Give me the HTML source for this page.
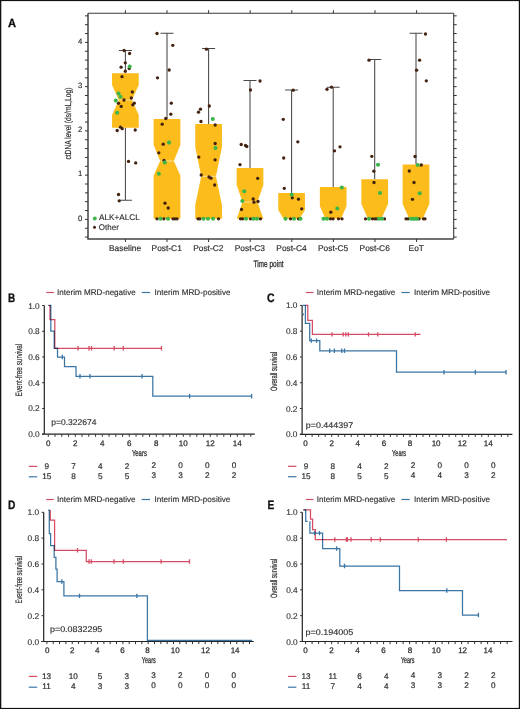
<!DOCTYPE html>
<html><head><meta charset="utf-8"><title>Figure</title>
<style>
html,body{margin:0;padding:0;background:#fff;width:520px;height:709px;overflow:hidden;}
svg{display:block;will-change:transform;text-rendering:geometricPrecision;font-family:"Liberation Sans", sans-serif;}
</style></head><body>
<svg width="520" height="709" viewBox="0 0 520 709" font-family='"Liberation Sans", sans-serif'>
<rect x="0" y="0" width="520" height="709" fill="#fff"/>
<g>
<path d="M125.4 73.3 V50.4 M118.9 50.4 H131.9 M125.4 127.7 V200.3 M118.9 200.3 H131.9 M167 119 V33.3 M160.5 33.3 H173.5 M208.6 124 V48.5 M202.1 48.5 H215.1 M250 168 V80.5 M243.5 80.5 H256.5 M291.6 193 V90 M285.1 90 H298.1 M333.2 187 V87.2 M326.7 87.2 H339.7 M374.7 179.3 V59.5 M368.2 59.5 H381.2 M416 164.5 V33.3 M409.5 33.3 H422.5 " stroke="#484848" stroke-width="1.05" fill="none"/>
<polygon points="112.05,73.3 138.75,73.3 138.75,85 131.95,100 138.75,115 138.75,127.7 112.05,127.7 112.05,115 118.85,100 112.05,85" fill="#FBBC1C"/>
<path d="M118.85 100 H131.95" stroke="#f6e2b0" stroke-width="0.9"/>
<polygon points="153.65,119 180.35,119 180.35,145 173.85,161 180.35,175.5 180.35,218.8 153.65,218.8 153.65,175.5 160.15,161 153.65,145" fill="#FBBC1C"/>
<path d="M160.15 161 H173.85" stroke="#f6e2b0" stroke-width="0.9"/>
<polygon points="195.25,124 221.95,124 221.95,147 215.95,176.3 221.95,205 221.95,218.8 195.25,218.8 195.25,205 201.25,176.3 195.25,147" fill="#FBBC1C"/>
<path d="M201.25 176.3 H215.95" stroke="#f6e2b0" stroke-width="0.9"/>
<polygon points="236.65,168 263.35,168 263.35,185 257.45,202 263.35,218.8 236.65,218.8 242.55,202 236.65,185" fill="#FBBC1C"/>
<path d="M242.55 202 H257.45" stroke="#f6e2b0" stroke-width="0.9"/>
<polygon points="278.25,193 304.95,193 304.95,210 299.65,218.8 283.55,218.8 278.25,210" fill="#FBBC1C"/>
<polygon points="319.85,187 346.55,187 346.55,206 341.05,218.8 325.35,218.8 319.85,206" fill="#FBBC1C"/>
<polygon points="361.35,179.3 388.05,179.3 388.05,204 381.45,218.8 367.95,218.8 361.35,204" fill="#FBBC1C"/>
<polygon points="402.65,164.5 429.35,164.5 429.35,204 422.75,218.8 409.25,218.8 402.65,204" fill="#FBBC1C"/>
</g>
<g fill="#42220f">
<circle cx="124.1" cy="50.5" r="1.65"/>
<circle cx="129.6" cy="53.5" r="1.65"/>
<circle cx="125.3" cy="62.8" r="1.65"/>
<circle cx="121.1" cy="67.2" r="1.65"/>
<circle cx="129.2" cy="68.5" r="1.65"/>
<circle cx="125.3" cy="71.2" r="1.65"/>
<circle cx="122" cy="76.7" r="1.65"/>
<circle cx="132.3" cy="92" r="1.65"/>
<circle cx="131.3" cy="98" r="1.65"/>
<circle cx="124" cy="100" r="1.65"/>
<circle cx="118.5" cy="103.3" r="1.65"/>
<circle cx="121.2" cy="106.4" r="1.65"/>
<circle cx="134.3" cy="103.2" r="1.65"/>
<circle cx="132.8" cy="104.8" r="1.65"/>
<circle cx="120.5" cy="127.2" r="1.65"/>
<circle cx="122.2" cy="128.7" r="1.65"/>
<circle cx="117.2" cy="130.5" r="1.65"/>
<circle cx="135.2" cy="130" r="1.65"/>
<circle cx="128.5" cy="161.4" r="1.65"/>
<circle cx="135.7" cy="162.9" r="1.65"/>
<circle cx="118.5" cy="194.5" r="1.65"/>
<circle cx="119.2" cy="200.8" r="1.65"/>
<circle cx="157" cy="33.5" r="1.65"/>
<circle cx="172.8" cy="45.3" r="1.65"/>
<circle cx="169.2" cy="70" r="1.65"/>
<circle cx="157.5" cy="77.8" r="1.65"/>
<circle cx="171.3" cy="103.2" r="1.65"/>
<circle cx="170.8" cy="114.2" r="1.65"/>
<circle cx="165.8" cy="118.5" r="1.65"/>
<circle cx="162.2" cy="124.2" r="1.65"/>
<circle cx="163.2" cy="144.2" r="1.65"/>
<circle cx="158.8" cy="152.8" r="1.65"/>
<circle cx="164" cy="160.5" r="1.65"/>
<circle cx="165" cy="203.2" r="1.65"/>
<circle cx="168.2" cy="208" r="1.65"/>
<circle cx="157" cy="218.8" r="1.65"/>
<circle cx="163.8" cy="218.8" r="1.65"/>
<circle cx="173" cy="218.8" r="1.65"/>
<circle cx="175" cy="218.8" r="1.65"/>
<circle cx="177" cy="218.8" r="1.65"/>
<circle cx="206.5" cy="49.2" r="1.65"/>
<circle cx="209.3" cy="106" r="1.65"/>
<circle cx="200.5" cy="109.2" r="1.65"/>
<circle cx="198.5" cy="112.2" r="1.65"/>
<circle cx="201" cy="121.5" r="1.65"/>
<circle cx="215.2" cy="125" r="1.65"/>
<circle cx="215.2" cy="143.5" r="1.65"/>
<circle cx="198.8" cy="157.1" r="1.65"/>
<circle cx="215.1" cy="159.8" r="1.65"/>
<circle cx="201.2" cy="175" r="1.65"/>
<circle cx="209" cy="177" r="1.65"/>
<circle cx="211" cy="178.2" r="1.65"/>
<circle cx="214.7" cy="185" r="1.65"/>
<circle cx="198" cy="218.8" r="1.65"/>
<circle cx="199.8" cy="218.8" r="1.65"/>
<circle cx="218.5" cy="218.8" r="1.65"/>
<circle cx="260" cy="81" r="1.65"/>
<circle cx="250.5" cy="90" r="1.65"/>
<circle cx="241.2" cy="144.5" r="1.65"/>
<circle cx="245.5" cy="145.5" r="1.65"/>
<circle cx="246.8" cy="146.5" r="1.65"/>
<circle cx="240" cy="164.7" r="1.65"/>
<circle cx="257.7" cy="178.3" r="1.65"/>
<circle cx="253.2" cy="199" r="1.65"/>
<circle cx="254" cy="202.2" r="1.65"/>
<circle cx="258" cy="201.5" r="1.65"/>
<circle cx="241.5" cy="209.5" r="1.65"/>
<circle cx="240.5" cy="218.8" r="1.65"/>
<circle cx="242.5" cy="218.8" r="1.65"/>
<circle cx="250.5" cy="218.8" r="1.65"/>
<circle cx="260.5" cy="218.8" r="1.65"/>
<circle cx="293.2" cy="90.2" r="1.65"/>
<circle cx="283.3" cy="119.3" r="1.65"/>
<circle cx="297.8" cy="141.8" r="1.65"/>
<circle cx="283.7" cy="158" r="1.65"/>
<circle cx="284.3" cy="188.3" r="1.65"/>
<circle cx="292.3" cy="197.8" r="1.65"/>
<circle cx="298.5" cy="199.2" r="1.65"/>
<circle cx="301.7" cy="208.8" r="1.65"/>
<circle cx="290.5" cy="218.8" r="1.65"/>
<circle cx="298.5" cy="218.8" r="1.65"/>
<circle cx="331.5" cy="87.2" r="1.65"/>
<circle cx="327" cy="89.3" r="1.65"/>
<circle cx="340" cy="146.8" r="1.65"/>
<circle cx="334.5" cy="150.8" r="1.65"/>
<circle cx="330.8" cy="212.2" r="1.65"/>
<circle cx="330.5" cy="218.8" r="1.65"/>
<circle cx="333" cy="218.8" r="1.65"/>
<circle cx="338.5" cy="218.8" r="1.65"/>
<circle cx="342" cy="218.8" r="1.65"/>
<circle cx="369" cy="60.2" r="1.65"/>
<circle cx="371.8" cy="156.3" r="1.65"/>
<circle cx="373.8" cy="171.2" r="1.65"/>
<circle cx="374" cy="182.5" r="1.65"/>
<circle cx="365.5" cy="218.8" r="1.65"/>
<circle cx="372.5" cy="218.8" r="1.65"/>
<circle cx="375" cy="218.8" r="1.65"/>
<circle cx="377" cy="218.8" r="1.65"/>
<circle cx="384.5" cy="218.8" r="1.65"/>
<circle cx="425.5" cy="34" r="1.65"/>
<circle cx="419.6" cy="60.2" r="1.65"/>
<circle cx="416.6" cy="70.2" r="1.65"/>
<circle cx="426.3" cy="80.8" r="1.65"/>
<circle cx="415" cy="156.5" r="1.65"/>
<circle cx="421.3" cy="165" r="1.65"/>
<circle cx="409.3" cy="171" r="1.65"/>
<circle cx="414" cy="182.5" r="1.65"/>
<circle cx="412.5" cy="199.3" r="1.65"/>
<circle cx="406" cy="218.8" r="1.65"/>
<circle cx="408" cy="218.8" r="1.65"/>
<circle cx="419" cy="218.8" r="1.65"/>
<circle cx="423.5" cy="218.8" r="1.65"/>
<circle cx="425" cy="218.8" r="1.65"/>
</g><g fill="#3cb54a">
<circle cx="129.7" cy="66.5" r="2.05"/>
<circle cx="118.5" cy="93.5" r="2.05"/>
<circle cx="120.5" cy="96.8" r="2.05"/>
<circle cx="115.8" cy="100.6" r="2.05"/>
<circle cx="117.2" cy="112.8" r="2.05"/>
<circle cx="169" cy="142.6" r="2.05"/>
<circle cx="164.8" cy="162.5" r="2.05"/>
<circle cx="158.8" cy="173.8" r="2.05"/>
<circle cx="160.5" cy="218.8" r="2.05"/>
<circle cx="168" cy="218.8" r="2.05"/>
<circle cx="212.8" cy="119" r="2.05"/>
<circle cx="215.5" cy="148" r="2.05"/>
<circle cx="203.5" cy="218.8" r="2.05"/>
<circle cx="208" cy="218.8" r="2.05"/>
<circle cx="213" cy="218.8" r="2.05"/>
<circle cx="244.2" cy="191.3" r="2.05"/>
<circle cx="242.3" cy="201" r="2.05"/>
<circle cx="246" cy="218.8" r="2.05"/>
<circle cx="253.5" cy="218.8" r="2.05"/>
<circle cx="257" cy="218.8" r="2.05"/>
<circle cx="291.7" cy="194.7" r="2.05"/>
<circle cx="285.5" cy="218.8" r="2.05"/>
<circle cx="294" cy="218.8" r="2.05"/>
<circle cx="300.5" cy="218.8" r="2.05"/>
<circle cx="341.8" cy="187.5" r="2.05"/>
<circle cx="337.3" cy="208.5" r="2.05"/>
<circle cx="323.5" cy="218.8" r="2.05"/>
<circle cx="327" cy="218.8" r="2.05"/>
<circle cx="378" cy="164.8" r="2.05"/>
<circle cx="380" cy="193" r="2.05"/>
<circle cx="369" cy="218.8" r="2.05"/>
<circle cx="379" cy="218.8" r="2.05"/>
<circle cx="382" cy="218.8" r="2.05"/>
<circle cx="417.8" cy="165" r="2.05"/>
<circle cx="419.7" cy="193.2" r="2.05"/>
<circle cx="411" cy="218.8" r="2.05"/>
<circle cx="413" cy="218.8" r="2.05"/>
<circle cx="415" cy="218.8" r="2.05"/>
<circle cx="417" cy="218.8" r="2.05"/>
</g>
<g>
<path d="M88 13.2 H453.7 M453.7 13.2 V239" stroke="#3a3a3a" stroke-width="1.1" fill="none"/>
<path d="M88 13.2 V239 H453.7" stroke="#444" stroke-width="1.5" fill="none"/>
<path d="M85 237.1 H88 M453.7 237.1 H456.7 M85 228.25 H88 M453.7 228.25 H456.7 M85 219.4 H88 M453.7 219.4 H456.7 M85 210.55 H88 M453.7 210.55 H456.7 M85 201.7 H88 M453.7 201.7 H456.7 M85 192.85 H88 M453.7 192.85 H456.7 M85 184 H88 M453.7 184 H456.7 M85 175.15 H88 M453.7 175.15 H456.7 M85 166.3 H88 M453.7 166.3 H456.7 M85 157.45 H88 M453.7 157.45 H456.7 M85 148.6 H88 M453.7 148.6 H456.7 M85 139.75 H88 M453.7 139.75 H456.7 M85 130.9 H88 M453.7 130.9 H456.7 M85 122.05 H88 M453.7 122.05 H456.7 M85 113.2 H88 M453.7 113.2 H456.7 M85 104.35 H88 M453.7 104.35 H456.7 M85 95.5 H88 M453.7 95.5 H456.7 M85 86.65 H88 M453.7 86.65 H456.7 M85 77.8 H88 M453.7 77.8 H456.7 M85 68.95 H88 M453.7 68.95 H456.7 M85 60.1 H88 M453.7 60.1 H456.7 M85 51.25 H88 M453.7 51.25 H456.7 M85 42.4 H88 M453.7 42.4 H456.7 M85 33.55 H88 M453.7 33.55 H456.7 M85 24.7 H88 M453.7 24.7 H456.7 M85 15.85 H88 M453.7 15.85 H456.7 M125.4 13.2 V10.2 M125.4 239 V242 M167 13.2 V10.2 M167 239 V242 M208.6 13.2 V10.2 M208.6 239 V242 M250.2 13.2 V10.2 M250.2 239 V242 M291.8 13.2 V10.2 M291.8 239 V242 M333.4 13.2 V10.2 M333.4 239 V242 M375 13.2 V10.2 M375 239 V242 M416.6 13.2 V10.2 M416.6 239 V242 " stroke="#333" stroke-width="1" fill="none"/>
<text x="82.4" y="220.7" font-size="7.8" text-anchor="end" fill="#2e2e2e" stroke="#2e2e2e" stroke-width="0.15" >0</text>
<text x="82.4" y="176.45" font-size="7.8" text-anchor="end" fill="#2e2e2e" stroke="#2e2e2e" stroke-width="0.15" >1</text>
<text x="82.4" y="132.2" font-size="7.8" text-anchor="end" fill="#2e2e2e" stroke="#2e2e2e" stroke-width="0.15" >2</text>
<text x="82.4" y="87.95" font-size="7.8" text-anchor="end" fill="#2e2e2e" stroke="#2e2e2e" stroke-width="0.15" >3</text>
<text x="82.4" y="43.7" font-size="7.8" text-anchor="end" fill="#2e2e2e" stroke="#2e2e2e" stroke-width="0.15" >4</text>
<text x="125.1" y="251.4" font-size="8.4" text-anchor="middle" fill="#2e2e2e" stroke="#2e2e2e" stroke-width="0.18" >Baseline</text>
<text x="166.7" y="251.4" font-size="8.4" text-anchor="middle" fill="#2e2e2e" stroke="#2e2e2e" stroke-width="0.18" >Post-C1</text>
<text x="208.3" y="251.4" font-size="8.4" text-anchor="middle" fill="#2e2e2e" stroke="#2e2e2e" stroke-width="0.18" >Post-C2</text>
<text x="249.9" y="251.4" font-size="8.4" text-anchor="middle" fill="#2e2e2e" stroke="#2e2e2e" stroke-width="0.18" >Post-C3</text>
<text x="291.5" y="251.4" font-size="8.4" text-anchor="middle" fill="#2e2e2e" stroke="#2e2e2e" stroke-width="0.18" >Post-C4</text>
<text x="333.1" y="251.4" font-size="8.4" text-anchor="middle" fill="#2e2e2e" stroke="#2e2e2e" stroke-width="0.18" >Post-C5</text>
<text x="374.7" y="251.4" font-size="8.4" text-anchor="middle" fill="#2e2e2e" stroke="#2e2e2e" stroke-width="0.18" >Post-C6</text>
<text x="416.3" y="251.4" font-size="8.4" text-anchor="middle" fill="#2e2e2e" stroke="#2e2e2e" stroke-width="0.18" >EoT</text>
<text x="268.5" y="266.9" font-size="9.4" text-anchor="middle" fill="#2e2e2e" textLength="30.2" lengthAdjust="spacingAndGlyphs" stroke="#2e2e2e" stroke-width="0.3" >Time point</text>
<text x="71.2" y="123.6" font-size="8.8" text-anchor="middle" fill="#2e2e2e" textLength="72" lengthAdjust="spacingAndGlyphs" transform="rotate(-90 71.2 123.6)" stroke="#2e2e2e" stroke-width="0.2" >ctDNA level (ds/mL,Log)</text>
<text x="8.1" y="26.8" font-size="11.9" text-anchor="start" fill="#111" font-weight="bold" textLength="8" lengthAdjust="spacingAndGlyphs" stroke="#111" stroke-width="0.35" >A</text>
<circle cx="94.8" cy="218.5" r="2" fill="#3cb54a"/>
<circle cx="94.5" cy="227.2" r="1.5" fill="#42220f"/>
<text x="99" y="220.3" font-size="8.1" text-anchor="start" fill="#2e2e2e" textLength="40.7" lengthAdjust="spacingAndGlyphs" stroke="#2e2e2e" stroke-width="0.15" >ALK+ALCL</text>
<text x="98.8" y="229.7" font-size="8.1" text-anchor="start" fill="#2e2e2e" textLength="20" lengthAdjust="spacingAndGlyphs" stroke="#2e2e2e" stroke-width="0.15" >Other</text>
</g>
<g>
<path d="M44.3 305.5 V434.2 M42 434.2 H254.8 " stroke="#222" stroke-width="1.2" fill="none"/>
<path d="M42.1 434.2 H44.3 M42.1 408.46 H44.3 M42.1 382.72 H44.3 M42.1 356.98 H44.3 M42.1 331.24 H44.3 M42.1 305.5 H44.3 M48.3 434.2 V436.8 M55.05 434.2 V436.8 M61.8 434.2 V436.8 M68.55 434.2 V436.8 M75.3 434.2 V436.8 M82.05 434.2 V436.8 M88.8 434.2 V436.8 M95.55 434.2 V436.8 M102.3 434.2 V436.8 M109.05 434.2 V436.8 M115.8 434.2 V436.8 M122.55 434.2 V436.8 M129.3 434.2 V436.8 M136.05 434.2 V436.8 M142.8 434.2 V436.8 M149.55 434.2 V436.8 M156.3 434.2 V436.8 M163.05 434.2 V436.8 M169.8 434.2 V436.8 M176.55 434.2 V436.8 M183.3 434.2 V436.8 M190.05 434.2 V436.8 M196.8 434.2 V436.8 M203.55 434.2 V436.8 M210.3 434.2 V436.8 M217.05 434.2 V436.8 M223.8 434.2 V436.8 M230.55 434.2 V436.8 M237.3 434.2 V436.8 M244.05 434.2 V436.8 M250.8 434.2 V436.8 " stroke="#333" stroke-width="1" fill="none"/>
<text x="39.7" y="437.2" font-size="8.3" text-anchor="end" fill="#2e2e2e" stroke="#2e2e2e" stroke-width="0.12" >0.0</text>
<text x="39.7" y="411.46" font-size="8.3" text-anchor="end" fill="#2e2e2e" stroke="#2e2e2e" stroke-width="0.12" >0.2</text>
<text x="39.7" y="385.72" font-size="8.3" text-anchor="end" fill="#2e2e2e" stroke="#2e2e2e" stroke-width="0.12" >0.4</text>
<text x="39.7" y="359.98" font-size="8.3" text-anchor="end" fill="#2e2e2e" stroke="#2e2e2e" stroke-width="0.12" >0.6</text>
<text x="39.7" y="334.24" font-size="8.3" text-anchor="end" fill="#2e2e2e" stroke="#2e2e2e" stroke-width="0.12" >0.8</text>
<text x="39.7" y="308.5" font-size="8.3" text-anchor="end" fill="#2e2e2e" stroke="#2e2e2e" stroke-width="0.12" >1.0</text>
<text x="48.3" y="445.9" font-size="8" text-anchor="middle" fill="#2e2e2e" stroke="#2e2e2e" stroke-width="0.25" >0</text>
<text x="75.3" y="445.9" font-size="8" text-anchor="middle" fill="#2e2e2e" stroke="#2e2e2e" stroke-width="0.25" >2</text>
<text x="102.3" y="445.9" font-size="8" text-anchor="middle" fill="#2e2e2e" stroke="#2e2e2e" stroke-width="0.25" >4</text>
<text x="129.3" y="445.9" font-size="8" text-anchor="middle" fill="#2e2e2e" stroke="#2e2e2e" stroke-width="0.25" >6</text>
<text x="156.3" y="445.9" font-size="8" text-anchor="middle" fill="#2e2e2e" stroke="#2e2e2e" stroke-width="0.25" >8</text>
<text x="183.3" y="445.9" font-size="8" text-anchor="middle" fill="#2e2e2e" stroke="#2e2e2e" stroke-width="0.25" >10</text>
<text x="210.3" y="445.9" font-size="8" text-anchor="middle" fill="#2e2e2e" stroke="#2e2e2e" stroke-width="0.25" >12</text>
<text x="237.3" y="445.9" font-size="8" text-anchor="middle" fill="#2e2e2e" stroke="#2e2e2e" stroke-width="0.25" >14</text>
<text x="139.4" y="455.7" font-size="8.7" text-anchor="middle" fill="#2e2e2e" textLength="15" lengthAdjust="spacingAndGlyphs" stroke="#2e2e2e" stroke-width="0.28" >Years</text>
<text x="21.6" y="370.1" font-size="9.3" text-anchor="middle" fill="#2e2e2e" textLength="52.6" lengthAdjust="spacingAndGlyphs" transform="rotate(-90 21.6 370.1)" stroke="#2e2e2e" stroke-width="0.18" >Event-free survival</text>
<text x="8.1" y="301.8" font-size="12.3" text-anchor="start" fill="#111" font-weight="bold" textLength="7.2" lengthAdjust="spacingAndGlyphs" stroke="#111" stroke-width="0.3" >B</text>
<text x="51.2" y="424.8" font-size="8.3" text-anchor="start" fill="#2e2e2e" textLength="45.3" lengthAdjust="spacingAndGlyphs" stroke="#2e2e2e" stroke-width="0.15" >p=0.322674</text>
<path d="M46.3 292.5 H53.9" stroke="#d64c64" stroke-width="1.2"/>
<text x="57.1" y="295" font-size="8.1" text-anchor="start" fill="#2e2e2e" textLength="78.6" lengthAdjust="spacingAndGlyphs" stroke="#2e2e2e" stroke-width="0.14" >Interim MRD-negative</text>
<path d="M141.7 292.5 H150.1" stroke="#3b75a4" stroke-width="1.2"/>
<text x="154.5" y="295" font-size="8.1" text-anchor="start" fill="#2e2e2e" textLength="76" lengthAdjust="spacingAndGlyphs" stroke="#2e2e2e" stroke-width="0.14" >Interim MRD-positive</text>
<path d="M28.8 466.4 H37.2" stroke="#d64c64" stroke-width="1.2"/>
<path d="M28.8 476.8 H37.2" stroke="#3b75a4" stroke-width="1.2"/>
<text x="46.8" y="468.7" font-size="8.2" text-anchor="middle" fill="#2e2e2e" stroke="#2e2e2e" stroke-width="0.2" >9</text>
<text x="46.8" y="478.7" font-size="8.2" text-anchor="middle" fill="#2e2e2e" stroke="#2e2e2e" stroke-width="0.2" >15</text>
<text x="73.55" y="468.7" font-size="8.2" text-anchor="middle" fill="#2e2e2e" stroke="#2e2e2e" stroke-width="0.2" >7</text>
<text x="73.55" y="478.7" font-size="8.2" text-anchor="middle" fill="#2e2e2e" stroke="#2e2e2e" stroke-width="0.2" >8</text>
<text x="100.3" y="468.7" font-size="8.2" text-anchor="middle" fill="#2e2e2e" stroke="#2e2e2e" stroke-width="0.2" >4</text>
<text x="100.3" y="478.7" font-size="8.2" text-anchor="middle" fill="#2e2e2e" stroke="#2e2e2e" stroke-width="0.2" >5</text>
<text x="127.05" y="468.7" font-size="8.2" text-anchor="middle" fill="#2e2e2e" stroke="#2e2e2e" stroke-width="0.2" >2</text>
<text x="127.05" y="478.7" font-size="8.2" text-anchor="middle" fill="#2e2e2e" stroke="#2e2e2e" stroke-width="0.2" >5</text>
<text x="153.8" y="467.8" font-size="8.2" text-anchor="middle" fill="#2e2e2e" stroke="#2e2e2e" stroke-width="0.2" >2</text>
<text x="153.8" y="477.8" font-size="8.2" text-anchor="middle" fill="#2e2e2e" stroke="#2e2e2e" stroke-width="0.2" >3</text>
<text x="180.55" y="467.8" font-size="8.2" text-anchor="middle" fill="#2e2e2e" stroke="#2e2e2e" stroke-width="0.2" >0</text>
<text x="180.55" y="477.8" font-size="8.2" text-anchor="middle" fill="#2e2e2e" stroke="#2e2e2e" stroke-width="0.2" >3</text>
<text x="207.3" y="467.8" font-size="8.2" text-anchor="middle" fill="#2e2e2e" stroke="#2e2e2e" stroke-width="0.2" >0</text>
<text x="207.3" y="477.8" font-size="8.2" text-anchor="middle" fill="#2e2e2e" stroke="#2e2e2e" stroke-width="0.2" >2</text>
<text x="234.05" y="467.8" font-size="8.2" text-anchor="middle" fill="#2e2e2e" stroke="#2e2e2e" stroke-width="0.2" >0</text>
<text x="234.05" y="477.8" font-size="8.2" text-anchor="middle" fill="#2e2e2e" stroke="#2e2e2e" stroke-width="0.2" >2</text>
<path d="M48.5 305.5 H50 V319.6 H54.8 V348.4 H161.5" stroke="#d64c64" stroke-width="1.25" fill="none" stroke-linejoin="miter" style="mix-blend-mode:multiply"/>
<path d="M78 346.1 V350.5 M89 346.1 V350.5 M91.5 346.1 V350.5 M114.2 346.1 V350.5 M123.3 346.1 V350.5 M161.5 346.1 V350.5 " stroke="#d64c64" stroke-width="1.3" fill="none"/>
<path d="M48.5 305.4 H50.8 V331 H54.2 V348.4 H57.5 V357.2 H64.5 V366.7 H76 V376.3 H152.8 V396.2 H251.6" stroke="#3b75a4" stroke-width="1.25" fill="none" stroke-linejoin="miter" style="mix-blend-mode:multiply"/>
<path d="M62.3 354.8 V359.2 M80 374.1 V378.5 M90 374.1 V378.5 M142 374.1 V378.5 M189.6 394 V398.4 M251.6 394 V398.4 " stroke="#3b75a4" stroke-width="1.3" fill="none"/>
</g>
<g>
<path d="M302.1 305.4 V434.3 M299.8 434.3 H512.4 " stroke="#222" stroke-width="1.2" fill="none"/>
<path d="M299.9 434.3 H302.1 M299.9 408.52 H302.1 M299.9 382.74 H302.1 M299.9 356.96 H302.1 M299.9 331.18 H302.1 M299.9 305.4 H302.1 M305.6 434.3 V436.9 M312.12 434.3 V436.9 M318.65 434.3 V436.9 M325.18 434.3 V436.9 M331.7 434.3 V436.9 M338.23 434.3 V436.9 M344.75 434.3 V436.9 M351.28 434.3 V436.9 M357.8 434.3 V436.9 M364.33 434.3 V436.9 M370.85 434.3 V436.9 M377.38 434.3 V436.9 M383.9 434.3 V436.9 M390.43 434.3 V436.9 M396.95 434.3 V436.9 M403.48 434.3 V436.9 M410 434.3 V436.9 M416.53 434.3 V436.9 M423.05 434.3 V436.9 M429.58 434.3 V436.9 M436.1 434.3 V436.9 M442.62 434.3 V436.9 M449.15 434.3 V436.9 M455.68 434.3 V436.9 M462.2 434.3 V436.9 M468.73 434.3 V436.9 M475.25 434.3 V436.9 M481.78 434.3 V436.9 M488.3 434.3 V436.9 M494.83 434.3 V436.9 M501.35 434.3 V436.9 M507.88 434.3 V436.9 " stroke="#333" stroke-width="1" fill="none"/>
<text x="297.5" y="437.3" font-size="8.3" text-anchor="end" fill="#2e2e2e" stroke="#2e2e2e" stroke-width="0.12" >0.0</text>
<text x="297.5" y="411.52" font-size="8.3" text-anchor="end" fill="#2e2e2e" stroke="#2e2e2e" stroke-width="0.12" >0.2</text>
<text x="297.5" y="385.74" font-size="8.3" text-anchor="end" fill="#2e2e2e" stroke="#2e2e2e" stroke-width="0.12" >0.4</text>
<text x="297.5" y="359.96" font-size="8.3" text-anchor="end" fill="#2e2e2e" stroke="#2e2e2e" stroke-width="0.12" >0.6</text>
<text x="297.5" y="334.18" font-size="8.3" text-anchor="end" fill="#2e2e2e" stroke="#2e2e2e" stroke-width="0.12" >0.8</text>
<text x="297.5" y="308.4" font-size="8.3" text-anchor="end" fill="#2e2e2e" stroke="#2e2e2e" stroke-width="0.12" >1.0</text>
<text x="305.6" y="446" font-size="8" text-anchor="middle" fill="#2e2e2e" stroke="#2e2e2e" stroke-width="0.25" >0</text>
<text x="331.7" y="446" font-size="8" text-anchor="middle" fill="#2e2e2e" stroke="#2e2e2e" stroke-width="0.25" >2</text>
<text x="357.8" y="446" font-size="8" text-anchor="middle" fill="#2e2e2e" stroke="#2e2e2e" stroke-width="0.25" >4</text>
<text x="383.9" y="446" font-size="8" text-anchor="middle" fill="#2e2e2e" stroke="#2e2e2e" stroke-width="0.25" >6</text>
<text x="410" y="446" font-size="8" text-anchor="middle" fill="#2e2e2e" stroke="#2e2e2e" stroke-width="0.25" >8</text>
<text x="436.1" y="446" font-size="8" text-anchor="middle" fill="#2e2e2e" stroke="#2e2e2e" stroke-width="0.25" >10</text>
<text x="462.2" y="446" font-size="8" text-anchor="middle" fill="#2e2e2e" stroke="#2e2e2e" stroke-width="0.25" >12</text>
<text x="488.3" y="446" font-size="8" text-anchor="middle" fill="#2e2e2e" stroke="#2e2e2e" stroke-width="0.25" >14</text>
<text x="399.1" y="455.7" font-size="8.7" text-anchor="middle" fill="#2e2e2e" textLength="14" lengthAdjust="spacingAndGlyphs" stroke="#2e2e2e" stroke-width="0.28" >Years</text>
<text x="277.2" y="371.4" font-size="9.3" text-anchor="middle" fill="#2e2e2e" textLength="39" lengthAdjust="spacingAndGlyphs" transform="rotate(-90 277.2 371.4)" stroke="#2e2e2e" stroke-width="0.18" >Overall survival</text>
<text x="267.1" y="301.9" font-size="12.3" text-anchor="start" fill="#111" font-weight="bold" textLength="7.6" lengthAdjust="spacingAndGlyphs" stroke="#111" stroke-width="0.3" >C</text>
<text x="305.8" y="428.1" font-size="8.3" text-anchor="start" fill="#2e2e2e" textLength="47.3" lengthAdjust="spacingAndGlyphs" stroke="#2e2e2e" stroke-width="0.15" >p=0.444397</text>
<path d="M305.9 292.5 H313.5" stroke="#d64c64" stroke-width="1.2"/>
<text x="316.7" y="295" font-size="8.1" text-anchor="start" fill="#2e2e2e" textLength="78.6" lengthAdjust="spacingAndGlyphs" stroke="#2e2e2e" stroke-width="0.14" >Interim MRD-negative</text>
<path d="M401.3 292.5 H409.7" stroke="#3b75a4" stroke-width="1.2"/>
<text x="414.1" y="295" font-size="8.1" text-anchor="start" fill="#2e2e2e" textLength="76" lengthAdjust="spacingAndGlyphs" stroke="#2e2e2e" stroke-width="0.14" >Interim MRD-positive</text>
<path d="M288 466.3 H296.4" stroke="#d64c64" stroke-width="1.2"/>
<path d="M288 476.7 H296.4" stroke="#3b75a4" stroke-width="1.2"/>
<text x="306" y="468.6" font-size="8.2" text-anchor="middle" fill="#2e2e2e" stroke="#2e2e2e" stroke-width="0.2" >9</text>
<text x="306" y="478.6" font-size="8.2" text-anchor="middle" fill="#2e2e2e" stroke="#2e2e2e" stroke-width="0.2" >15</text>
<text x="332.75" y="468.6" font-size="8.2" text-anchor="middle" fill="#2e2e2e" stroke="#2e2e2e" stroke-width="0.2" >8</text>
<text x="332.75" y="478.6" font-size="8.2" text-anchor="middle" fill="#2e2e2e" stroke="#2e2e2e" stroke-width="0.2" >8</text>
<text x="359.5" y="468.6" font-size="8.2" text-anchor="middle" fill="#2e2e2e" stroke="#2e2e2e" stroke-width="0.2" >4</text>
<text x="359.5" y="478.6" font-size="8.2" text-anchor="middle" fill="#2e2e2e" stroke="#2e2e2e" stroke-width="0.2" >5</text>
<text x="386.25" y="468.6" font-size="8.2" text-anchor="middle" fill="#2e2e2e" stroke="#2e2e2e" stroke-width="0.2" >2</text>
<text x="386.25" y="478.6" font-size="8.2" text-anchor="middle" fill="#2e2e2e" stroke="#2e2e2e" stroke-width="0.2" >5</text>
<text x="413" y="467.7" font-size="8.2" text-anchor="middle" fill="#2e2e2e" stroke="#2e2e2e" stroke-width="0.2" >2</text>
<text x="413" y="477.7" font-size="8.2" text-anchor="middle" fill="#2e2e2e" stroke="#2e2e2e" stroke-width="0.2" >4</text>
<text x="439.75" y="467.7" font-size="8.2" text-anchor="middle" fill="#2e2e2e" stroke="#2e2e2e" stroke-width="0.2" >0</text>
<text x="439.75" y="477.7" font-size="8.2" text-anchor="middle" fill="#2e2e2e" stroke="#2e2e2e" stroke-width="0.2" >4</text>
<text x="466.5" y="467.7" font-size="8.2" text-anchor="middle" fill="#2e2e2e" stroke="#2e2e2e" stroke-width="0.2" >0</text>
<text x="466.5" y="477.7" font-size="8.2" text-anchor="middle" fill="#2e2e2e" stroke="#2e2e2e" stroke-width="0.2" >3</text>
<text x="493.25" y="467.7" font-size="8.2" text-anchor="middle" fill="#2e2e2e" stroke="#2e2e2e" stroke-width="0.2" >0</text>
<text x="493.25" y="477.7" font-size="8.2" text-anchor="middle" fill="#2e2e2e" stroke="#2e2e2e" stroke-width="0.2" >2</text>
<path d="M305.4 305.4 H307.8 V320.3 H312.4 V334.4 H420.5" stroke="#d64c64" stroke-width="1.25" fill="none" stroke-linejoin="miter" style="mix-blend-mode:multiply"/>
<path d="M332 332.2 V336.6 M343.2 332.2 V336.6 M345.8 332.2 V336.6 M348.3 332.2 V336.6 M368.5 332.2 V336.6 M377.7 332.2 V336.6 M415.3 332.2 V336.6 " stroke="#d64c64" stroke-width="1.3" fill="none"/>
<path d="M302.6 305.4 H305.4 V323.4 H309.7 V340.6 H319.8 V350.8 H396.5 V372.2 H506" stroke="#3b75a4" stroke-width="1.25" fill="none" stroke-linejoin="miter" style="mix-blend-mode:multiply"/>
<path d="M311.3 338.4 V342.8 M316.6 338.4 V342.8 M329.7 348.6 V353 M334.4 348.6 V353 M341.8 348.6 V353 M344.5 348.6 V353 M444 370 V374.4 M475.4 370 V374.4 M506 370 V374.4 " stroke="#3b75a4" stroke-width="1.3" fill="none"/>
<path d="M303.4 313.6 V315.2" stroke="#3b75a4" stroke-width="1.2"/>
</g>
<g>
<path d="M43.7 512.3 V641.5 M41.25 641.5 H253.7 " stroke="#222" stroke-width="1.2" fill="none"/>
<path d="M41.5 641.5 H43.7 M41.5 615.66 H43.7 M41.5 589.82 H43.7 M41.5 563.98 H43.7 M41.5 538.14 H43.7 M41.5 512.3 H43.7 M46.9 641.5 V644.1 M53.23 641.5 V644.1 M59.56 641.5 V644.1 M65.89 641.5 V644.1 M72.22 641.5 V644.1 M78.55 641.5 V644.1 M84.88 641.5 V644.1 M91.21 641.5 V644.1 M97.54 641.5 V644.1 M103.87 641.5 V644.1 M110.2 641.5 V644.1 M116.53 641.5 V644.1 M122.86 641.5 V644.1 M129.19 641.5 V644.1 M135.52 641.5 V644.1 M141.85 641.5 V644.1 M148.18 641.5 V644.1 M154.51 641.5 V644.1 M160.84 641.5 V644.1 M167.17 641.5 V644.1 M173.5 641.5 V644.1 M179.83 641.5 V644.1 M186.16 641.5 V644.1 M192.49 641.5 V644.1 M198.82 641.5 V644.1 M205.15 641.5 V644.1 M211.48 641.5 V644.1 M217.81 641.5 V644.1 M224.14 641.5 V644.1 M230.47 641.5 V644.1 M236.8 641.5 V644.1 M243.13 641.5 V644.1 M249.46 641.5 V644.1 " stroke="#333" stroke-width="1" fill="none"/>
<text x="39.1" y="644.5" font-size="8.3" text-anchor="end" fill="#2e2e2e" stroke="#2e2e2e" stroke-width="0.12" >0.0</text>
<text x="39.1" y="618.66" font-size="8.3" text-anchor="end" fill="#2e2e2e" stroke="#2e2e2e" stroke-width="0.12" >0.2</text>
<text x="39.1" y="592.82" font-size="8.3" text-anchor="end" fill="#2e2e2e" stroke="#2e2e2e" stroke-width="0.12" >0.4</text>
<text x="39.1" y="566.98" font-size="8.3" text-anchor="end" fill="#2e2e2e" stroke="#2e2e2e" stroke-width="0.12" >0.6</text>
<text x="39.1" y="541.14" font-size="8.3" text-anchor="end" fill="#2e2e2e" stroke="#2e2e2e" stroke-width="0.12" >0.8</text>
<text x="39.1" y="515.3" font-size="8.3" text-anchor="end" fill="#2e2e2e" stroke="#2e2e2e" stroke-width="0.12" >1.0</text>
<text x="47.2" y="653.2" font-size="8" text-anchor="middle" fill="#2e2e2e" stroke="#2e2e2e" stroke-width="0.25" >0</text>
<text x="72.3" y="653.2" font-size="8" text-anchor="middle" fill="#2e2e2e" stroke="#2e2e2e" stroke-width="0.25" >2</text>
<text x="97.3" y="653.2" font-size="8" text-anchor="middle" fill="#2e2e2e" stroke="#2e2e2e" stroke-width="0.25" >4</text>
<text x="122.4" y="653.2" font-size="8" text-anchor="middle" fill="#2e2e2e" stroke="#2e2e2e" stroke-width="0.25" >6</text>
<text x="147.5" y="653.2" font-size="8" text-anchor="middle" fill="#2e2e2e" stroke="#2e2e2e" stroke-width="0.25" >8</text>
<text x="175.2" y="653.2" font-size="8" text-anchor="middle" fill="#2e2e2e" stroke="#2e2e2e" stroke-width="0.25" >10</text>
<text x="205.4" y="653.2" font-size="8" text-anchor="middle" fill="#2e2e2e" stroke="#2e2e2e" stroke-width="0.25" >12</text>
<text x="235.1" y="653.2" font-size="8" text-anchor="middle" fill="#2e2e2e" stroke="#2e2e2e" stroke-width="0.25" >14</text>
<text x="148.8" y="663.1" font-size="8.7" text-anchor="middle" fill="#2e2e2e" textLength="14" lengthAdjust="spacingAndGlyphs" stroke="#2e2e2e" stroke-width="0.28" >Years</text>
<text x="22.4" y="579.7" font-size="9.3" text-anchor="middle" fill="#2e2e2e" textLength="47.5" lengthAdjust="spacingAndGlyphs" transform="rotate(-90 22.4 579.7)" stroke="#2e2e2e" stroke-width="0.18" >Event-free survival</text>
<text x="8.1" y="509.2" font-size="12.3" text-anchor="start" fill="#111" font-weight="bold" textLength="7.4" lengthAdjust="spacingAndGlyphs" stroke="#111" stroke-width="0.3" >D</text>
<text x="50" y="632.3" font-size="8.3" text-anchor="start" fill="#2e2e2e" textLength="52.3" lengthAdjust="spacingAndGlyphs" stroke="#2e2e2e" stroke-width="0.15" >p=0.0832295</text>
<path d="M46.2 499.5 H53.8" stroke="#d64c64" stroke-width="1.2"/>
<text x="57" y="502" font-size="8.1" text-anchor="start" fill="#2e2e2e" textLength="78.6" lengthAdjust="spacingAndGlyphs" stroke="#2e2e2e" stroke-width="0.14" >Interim MRD-negative</text>
<path d="M141.6 499.5 H150" stroke="#3b75a4" stroke-width="1.2"/>
<text x="154.4" y="502" font-size="8.1" text-anchor="start" fill="#2e2e2e" textLength="76" lengthAdjust="spacingAndGlyphs" stroke="#2e2e2e" stroke-width="0.14" >Interim MRD-positive</text>
<path d="M28.8 676.4 H37.2" stroke="#d64c64" stroke-width="1.2"/>
<path d="M28.8 687.2 H37.2" stroke="#3b75a4" stroke-width="1.2"/>
<text x="46.6" y="678.7" font-size="8.2" text-anchor="middle" fill="#2e2e2e" stroke="#2e2e2e" stroke-width="0.2" >13</text>
<text x="46.6" y="689.1" font-size="8.2" text-anchor="middle" fill="#2e2e2e" stroke="#2e2e2e" stroke-width="0.2" >11</text>
<text x="73.35" y="678.7" font-size="8.2" text-anchor="middle" fill="#2e2e2e" stroke="#2e2e2e" stroke-width="0.2" >10</text>
<text x="73.35" y="689.1" font-size="8.2" text-anchor="middle" fill="#2e2e2e" stroke="#2e2e2e" stroke-width="0.2" >4</text>
<text x="100.1" y="678.7" font-size="8.2" text-anchor="middle" fill="#2e2e2e" stroke="#2e2e2e" stroke-width="0.2" >5</text>
<text x="100.1" y="689.1" font-size="8.2" text-anchor="middle" fill="#2e2e2e" stroke="#2e2e2e" stroke-width="0.2" >3</text>
<text x="126.85" y="678.7" font-size="8.2" text-anchor="middle" fill="#2e2e2e" stroke="#2e2e2e" stroke-width="0.2" >3</text>
<text x="126.85" y="689.1" font-size="8.2" text-anchor="middle" fill="#2e2e2e" stroke="#2e2e2e" stroke-width="0.2" >3</text>
<text x="153.6" y="677.8" font-size="8.2" text-anchor="middle" fill="#2e2e2e" stroke="#2e2e2e" stroke-width="0.2" >3</text>
<text x="153.6" y="688.2" font-size="8.2" text-anchor="middle" fill="#2e2e2e" stroke="#2e2e2e" stroke-width="0.2" >0</text>
<text x="180.35" y="677.8" font-size="8.2" text-anchor="middle" fill="#2e2e2e" stroke="#2e2e2e" stroke-width="0.2" >2</text>
<text x="180.35" y="688.2" font-size="8.2" text-anchor="middle" fill="#2e2e2e" stroke="#2e2e2e" stroke-width="0.2" >0</text>
<text x="207.1" y="677.8" font-size="8.2" text-anchor="middle" fill="#2e2e2e" stroke="#2e2e2e" stroke-width="0.2" >0</text>
<text x="207.1" y="688.2" font-size="8.2" text-anchor="middle" fill="#2e2e2e" stroke="#2e2e2e" stroke-width="0.2" >0</text>
<text x="233.85" y="677.8" font-size="8.2" text-anchor="middle" fill="#2e2e2e" stroke="#2e2e2e" stroke-width="0.2" >0</text>
<text x="233.85" y="688.2" font-size="8.2" text-anchor="middle" fill="#2e2e2e" stroke="#2e2e2e" stroke-width="0.2" >0</text>
<path d="M50.3 510 V520.1 H54.6 V550.3 H86.3 V561.5 H189.5" stroke="#d64c64" stroke-width="1.25" fill="none" stroke-linejoin="miter" style="mix-blend-mode:multiply"/>
<path d="M77.5 548.1 V552.5 M89 559.3 V563.7 M91.3 559.3 V563.7 M114 559.3 V563.7 M123.3 559.3 V563.7 M161.1 559.3 V563.7 M189.5 559.3 V563.7 " stroke="#d64c64" stroke-width="1.3" fill="none"/>
<path d="M48.1 510.2 H49.3 V533.5 H50.6 V545.5 H54.2 V557.4 H55.9 V569.2 H57.1 V581.5 H63.9 V595.9 H147.4 V640.3 H252" stroke="#3b75a4" stroke-width="1.25" fill="none" stroke-linejoin="miter" style="mix-blend-mode:multiply"/>
<path d="M61.8 579.3 V583.7 M79.5 593.7 V598.1 M136.9 593.7 V598.1 " stroke="#3b75a4" stroke-width="1.3" fill="none"/>
</g>
<g>
<path d="M302.3 512.3 V641.5 M299.8 641.5 H512.5 " stroke="#222" stroke-width="1.2" fill="none"/>
<path d="M300.1 641.5 H302.3 M300.1 615.66 H302.3 M300.1 589.82 H302.3 M300.1 563.98 H302.3 M300.1 538.14 H302.3 M300.1 512.3 H302.3 M305.6 641.5 V644.1 M312.1 641.5 V644.1 M318.6 641.5 V644.1 M325.1 641.5 V644.1 M331.6 641.5 V644.1 M338.1 641.5 V644.1 M344.6 641.5 V644.1 M351.1 641.5 V644.1 M357.6 641.5 V644.1 M364.1 641.5 V644.1 M370.6 641.5 V644.1 M377.1 641.5 V644.1 M383.6 641.5 V644.1 M390.1 641.5 V644.1 M396.6 641.5 V644.1 M403.1 641.5 V644.1 M409.6 641.5 V644.1 M416.1 641.5 V644.1 M422.6 641.5 V644.1 M429.1 641.5 V644.1 M435.6 641.5 V644.1 M442.1 641.5 V644.1 M448.6 641.5 V644.1 M455.1 641.5 V644.1 M461.6 641.5 V644.1 M468.1 641.5 V644.1 M474.6 641.5 V644.1 M481.1 641.5 V644.1 M487.6 641.5 V644.1 M494.1 641.5 V644.1 M500.6 641.5 V644.1 M507.1 641.5 V644.1 " stroke="#333" stroke-width="1" fill="none"/>
<text x="297.7" y="644.5" font-size="8.3" text-anchor="end" fill="#2e2e2e" stroke="#2e2e2e" stroke-width="0.12" >0.0</text>
<text x="297.7" y="618.66" font-size="8.3" text-anchor="end" fill="#2e2e2e" stroke="#2e2e2e" stroke-width="0.12" >0.2</text>
<text x="297.7" y="592.82" font-size="8.3" text-anchor="end" fill="#2e2e2e" stroke="#2e2e2e" stroke-width="0.12" >0.4</text>
<text x="297.7" y="566.98" font-size="8.3" text-anchor="end" fill="#2e2e2e" stroke="#2e2e2e" stroke-width="0.12" >0.6</text>
<text x="297.7" y="541.14" font-size="8.3" text-anchor="end" fill="#2e2e2e" stroke="#2e2e2e" stroke-width="0.12" >0.8</text>
<text x="297.7" y="515.3" font-size="8.3" text-anchor="end" fill="#2e2e2e" stroke="#2e2e2e" stroke-width="0.12" >1.0</text>
<text x="305.6" y="653.2" font-size="8" text-anchor="middle" fill="#2e2e2e" stroke="#2e2e2e" stroke-width="0.25" >0</text>
<text x="331.6" y="653.2" font-size="8" text-anchor="middle" fill="#2e2e2e" stroke="#2e2e2e" stroke-width="0.25" >2</text>
<text x="357.6" y="653.2" font-size="8" text-anchor="middle" fill="#2e2e2e" stroke="#2e2e2e" stroke-width="0.25" >4</text>
<text x="383.4" y="653.2" font-size="8" text-anchor="middle" fill="#2e2e2e" stroke="#2e2e2e" stroke-width="0.25" >6</text>
<text x="410" y="653.2" font-size="8" text-anchor="middle" fill="#2e2e2e" stroke="#2e2e2e" stroke-width="0.25" >8</text>
<text x="436.2" y="653.2" font-size="8" text-anchor="middle" fill="#2e2e2e" stroke="#2e2e2e" stroke-width="0.25" >10</text>
<text x="462.6" y="653.2" font-size="8" text-anchor="middle" fill="#2e2e2e" stroke="#2e2e2e" stroke-width="0.25" >12</text>
<text x="487.9" y="653.2" font-size="8" text-anchor="middle" fill="#2e2e2e" stroke="#2e2e2e" stroke-width="0.25" >14</text>
<text x="407.7" y="662.9" font-size="8.7" text-anchor="middle" fill="#2e2e2e" textLength="13.6" lengthAdjust="spacingAndGlyphs" stroke="#2e2e2e" stroke-width="0.28" >Years</text>
<text x="277.2" y="578.4" font-size="9.3" text-anchor="middle" fill="#2e2e2e" textLength="39" lengthAdjust="spacingAndGlyphs" transform="rotate(-90 277.2 578.4)" stroke="#2e2e2e" stroke-width="0.18" >Overall survival</text>
<text x="267.4" y="509.1" font-size="12.3" text-anchor="start" fill="#111" font-weight="bold" textLength="6.8" lengthAdjust="spacingAndGlyphs" stroke="#111" stroke-width="0.3" >E</text>
<text x="305.6" y="635.1" font-size="8.3" text-anchor="start" fill="#2e2e2e" textLength="47.6" lengthAdjust="spacingAndGlyphs" stroke="#2e2e2e" stroke-width="0.15" >p=0.194005</text>
<path d="M305.9 499.5 H313.5" stroke="#d64c64" stroke-width="1.2"/>
<text x="316.7" y="502" font-size="8.1" text-anchor="start" fill="#2e2e2e" textLength="78.6" lengthAdjust="spacingAndGlyphs" stroke="#2e2e2e" stroke-width="0.14" >Interim MRD-negative</text>
<path d="M401.3 499.5 H409.7" stroke="#3b75a4" stroke-width="1.2"/>
<text x="414.1" y="502" font-size="8.1" text-anchor="start" fill="#2e2e2e" textLength="76" lengthAdjust="spacingAndGlyphs" stroke="#2e2e2e" stroke-width="0.14" >Interim MRD-positive</text>
<path d="M288 676.4 H296.4" stroke="#d64c64" stroke-width="1.2"/>
<path d="M288 687.2 H296.4" stroke="#3b75a4" stroke-width="1.2"/>
<text x="306" y="678.7" font-size="8.2" text-anchor="middle" fill="#2e2e2e" stroke="#2e2e2e" stroke-width="0.2" >13</text>
<text x="306" y="689.1" font-size="8.2" text-anchor="middle" fill="#2e2e2e" stroke="#2e2e2e" stroke-width="0.2" >11</text>
<text x="332.75" y="678.7" font-size="8.2" text-anchor="middle" fill="#2e2e2e" stroke="#2e2e2e" stroke-width="0.2" >11</text>
<text x="332.75" y="689.1" font-size="8.2" text-anchor="middle" fill="#2e2e2e" stroke="#2e2e2e" stroke-width="0.2" >7</text>
<text x="359.5" y="678.7" font-size="8.2" text-anchor="middle" fill="#2e2e2e" stroke="#2e2e2e" stroke-width="0.2" >6</text>
<text x="359.5" y="689.1" font-size="8.2" text-anchor="middle" fill="#2e2e2e" stroke="#2e2e2e" stroke-width="0.2" >4</text>
<text x="386.25" y="678.7" font-size="8.2" text-anchor="middle" fill="#2e2e2e" stroke="#2e2e2e" stroke-width="0.2" >4</text>
<text x="386.25" y="689.1" font-size="8.2" text-anchor="middle" fill="#2e2e2e" stroke="#2e2e2e" stroke-width="0.2" >4</text>
<text x="413" y="677.8" font-size="8.2" text-anchor="middle" fill="#2e2e2e" stroke="#2e2e2e" stroke-width="0.2" >4</text>
<text x="413" y="688.2" font-size="8.2" text-anchor="middle" fill="#2e2e2e" stroke="#2e2e2e" stroke-width="0.2" >3</text>
<text x="439.75" y="677.8" font-size="8.2" text-anchor="middle" fill="#2e2e2e" stroke="#2e2e2e" stroke-width="0.2" >3</text>
<text x="439.75" y="688.2" font-size="8.2" text-anchor="middle" fill="#2e2e2e" stroke="#2e2e2e" stroke-width="0.2" >3</text>
<text x="466.5" y="677.8" font-size="8.2" text-anchor="middle" fill="#2e2e2e" stroke="#2e2e2e" stroke-width="0.2" >2</text>
<text x="466.5" y="688.2" font-size="8.2" text-anchor="middle" fill="#2e2e2e" stroke="#2e2e2e" stroke-width="0.2" >2</text>
<text x="493.25" y="677.8" font-size="8.2" text-anchor="middle" fill="#2e2e2e" stroke="#2e2e2e" stroke-width="0.2" >2</text>
<text x="493.25" y="688.2" font-size="8.2" text-anchor="middle" fill="#2e2e2e" stroke="#2e2e2e" stroke-width="0.2" >0</text>
<path d="M303.4 509.8 H310.5 V519.2 H312.6 V529.6 H315.3 V539.5 H507" stroke="#d64c64" stroke-width="1.25" fill="none" stroke-linejoin="miter" style="mix-blend-mode:multiply"/>
<path d="M334.8 537.3 V541.7 M346.3 537.3 V541.7 M347.5 537.3 V541.7 M351 537.3 V541.7 M371.2 537.3 V541.7 M380.3 537.3 V541.7 M418.3 537.3 V541.7 M446.4 537.3 V541.7 " stroke="#d64c64" stroke-width="1.3" fill="none"/>
<path d="M303.4 509.8 H305.7 V521.3 H307.6 M309.9 521.2 V533.1 H322.6 V548.5 H339.8 V566 H399.5 V590.5 H462.5 V615 H478.4" stroke="#3b75a4" stroke-width="1.25" fill="none" stroke-linejoin="miter" style="mix-blend-mode:multiply"/>
<path d="M314.5 530.9 V535.3 M319.5 530.9 V535.3 M336.6 546.3 V550.7 M344.5 563.8 V568.2 M446.8 588.3 V592.7 M478.4 612.8 V617.2 " stroke="#3b75a4" stroke-width="1.3" fill="none"/>
</g>
<g fill="#141010"><rect x="0" y="0" width="520" height="1.1"/><rect x="0" y="0" width="1.3" height="709"/><rect x="518.8" y="0" width="1.2" height="709"/><rect x="0" y="707.9" width="520" height="1.1"/></g>
</svg>
</body></html>
